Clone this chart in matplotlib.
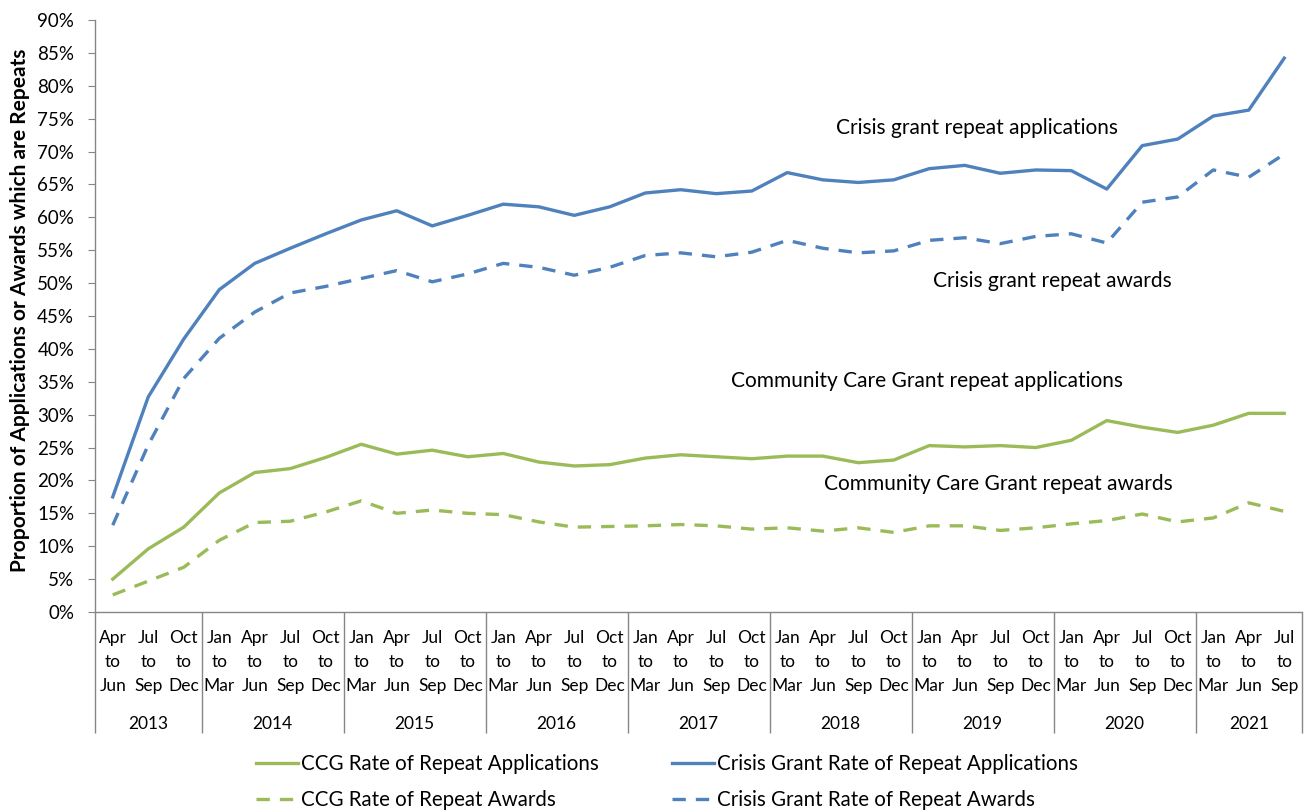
import matplotlib
matplotlib.use("Agg")
import matplotlib.pyplot as plt
from matplotlib.ticker import FixedLocator, PercentFormatter

plt.rcParams['font.family'] = ['Lato', 'DejaVu Sans']

years = ["2013", "2014", "2015", "2016", "2017", "2018", "2019", "2020", "2021"]
quarters_per_year = [3, 4, 4, 4, 4, 4, 4, 4, 3]
quarter_labels = (["Apr\nto\nJun", "Jul\nto\nSep", "Oct\nto\nDec"]
                  + ["Jan\nto\nMar", "Apr\nto\nJun", "Jul\nto\nSep", "Oct\nto\nDec"] * 7
                  + ["Jan\nto\nMar", "Apr\nto\nJun", "Jul\nto\nSep"])

ccg_applications = [5.0, 9.6, 12.9, 18.1, 21.2, 21.8, 23.5, 25.5, 24.0, 24.6, 23.6, 24.1,
                    22.8, 22.2, 22.4, 23.4, 23.9, 23.6, 23.3, 23.7, 23.7, 22.7, 23.1,
                    25.3, 25.1, 25.3, 25.0, 26.1, 29.1, 28.1, 27.3, 28.4, 30.2, 30.2]
crisis_applications = [17.5, 32.7, 41.5, 49.0, 53.0, 55.3, 57.5, 59.6, 61.0, 58.7, 60.3, 62.0,
                       61.6, 60.3, 61.6, 63.7, 64.2, 63.6, 64.0, 66.8, 65.7, 65.3, 65.7,
                       67.4, 67.9, 66.7, 67.2, 67.1, 64.3, 70.9, 71.9, 75.4, 76.3, 84.2]
ccg_awards = [2.6, 4.7, 6.8, 10.9, 13.6, 13.8, 15.2, 16.9, 15.0, 15.5, 15.0, 14.8,
              13.7, 12.9, 13.0, 13.1, 13.3, 13.1, 12.6, 12.8, 12.3, 12.8, 12.1,
              13.1, 13.1, 12.4, 12.8, 13.4, 13.9, 14.9, 13.7, 14.3, 16.6, 15.3]
crisis_awards = [13.2, 25.4, 35.5, 41.6, 45.6, 48.5, 49.5, 50.7, 51.9, 50.2, 51.4, 53.0,
                 52.4, 51.2, 52.4, 54.2, 54.6, 54.0, 54.7, 56.5, 55.3, 54.6, 54.9,
                 56.5, 56.9, 56.0, 57.1, 57.5, 56.1, 62.3, 63.1, 67.2, 66.1, 69.6]

BLUE = "#4F81BD"
GREEN = "#9BBB59"
GREY = "#868686"

fig = plt.figure(figsize=(13.06, 8.11), dpi=100)
ax = fig.add_axes([95 / 1306, 1 - 612 / 811, 1207 / 1306, 592 / 811])

x = list(range(len(quarter_labels)))
lw = 2.4
dash = (4, 3)
l1, = ax.plot(x, ccg_applications, color=GREEN, lw=lw, label="CCG Rate of Repeat Applications")
l2, = ax.plot(x, ccg_awards, color=GREEN, lw=lw, ls=(0, dash), label="CCG Rate of Repeat Awards")
l3, = ax.plot(x, crisis_applications, color=BLUE, lw=lw, label="Crisis Grant Rate of Repeat Applications")
l4, = ax.plot(x, crisis_awards, color=BLUE, lw=lw, ls=(0, dash), label="Crisis Grant Rate of Repeat Awards")

ax.set_xlim(-0.5, len(x) - 0.5)
ax.set_ylim(0, 90)
ax.set_yticks(range(0, 91, 5))
ax.yaxis.set_major_formatter(PercentFormatter(decimals=0))
ax.tick_params(axis='y', direction='out', length=5, color=GREY, labelsize=13.5, pad=10)

for s in ["top", "right"]:
    ax.spines[s].set_visible(False)
for s in ["left", "bottom"]:
    ax.spines[s].set_color(GREY)
    ax.spines[s].set_linewidth(1.0)

# year boundaries as long ticks
bounds = [-0.5]
for n in quarters_per_year:
    bounds.append(bounds[-1] + n)
ax.xaxis.set_major_locator(FixedLocator(bounds))
ax.set_xticklabels([""] * len(bounds))
ax.tick_params(axis='x', which='major', direction='out', length=87, color=GREY, width=1.0)
ax.xaxis.set_minor_locator(FixedLocator(x))
ax.set_xticklabels(quarter_labels, minor=True, fontsize=12.5, linespacing=1.62)
ax.tick_params(axis='x', which='minor', length=0, pad=13)

tr = ax.get_xaxis_transform()
for i, yr in enumerate(years):
    cx = (bounds[i] + bounds[i + 1]) / 2
    ax.text(cx, -0.19, yr, transform=tr, ha='center', va='center', fontsize=12.5)

ax.set_ylabel("Proportion of Applications or Awards which are Repeats", fontsize=15,
              fontweight='bold')
ax.yaxis.set_label_coords(-0.054, 0.51)

ann_fs = 15
ax.text(24.35, 73.6, "Crisis grant repeat applications", ha='center', va='center', fontsize=ann_fs)
ax.text(26.46, 50.3, "Crisis grant repeat awards", ha='center', va='center', fontsize=ann_fs)
ax.text(22.94, 35.1, "Community Care Grant repeat applications", ha='center', va='center', fontsize=ann_fs)
ax.text(24.96, 19.5, "Community Care Grant repeat awards", ha='center', va='center', fontsize=ann_fs)

fig.legend(handles=[l1, l2, l3, l4], ncol=2, loc='center',
           bbox_to_anchor=(667 / 1306, 1 - 782 / 811), frameon=False,
           fontsize=14.8, handlelength=2.04, handletextpad=0.15, columnspacing=3.6,
           labelspacing=0.75)

fig.savefig("out.png", dpi=100)
